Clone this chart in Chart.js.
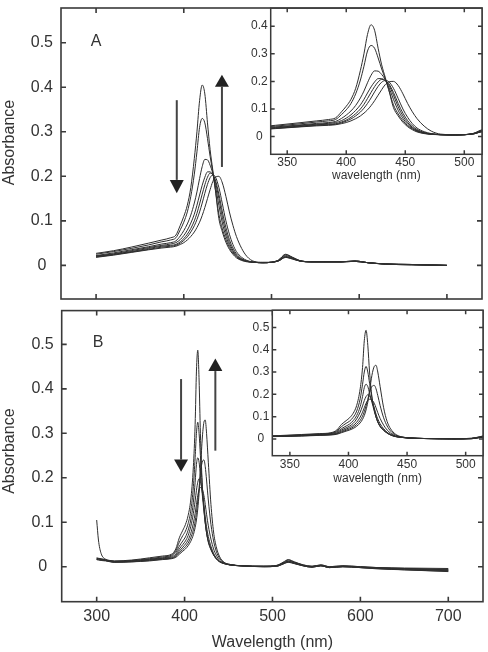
<!DOCTYPE html>
<html>
<head>
<meta charset="utf-8">
<script src="https://cdn.jsdelivr.net/npm/chart.js@4"></script>
<style>
  html, body { margin: 0; padding: 0; background: #fff; }
  #wrap { position: relative; width: 488px; height: 652px; }
  canvas { position: absolute; }
</style>
</head>
<body>
<div id="wrap">
  <canvas id="mainA" width="488" height="305" style="left:0;top:0"></canvas>
  <canvas id="mainB" width="488" height="347" style="left:0;top:305px"></canvas>
  <canvas id="insetA" width="258" height="186" style="left:230px;top:4px"></canvas>
  <canvas id="insetB" width="256" height="186" style="left:232px;top:306px"></canvas>
</div>
<script>
// ---- panel A : wavelengths (nm) and 7 spectra ----
const wlA = [300, 320, 340, 360, 375, 385, 391, 396, 400, 404, 408, 412, 415, 418, 421, 424, 427, 430, 433, 436,
  440, 444, 448, 452, 456, 460, 466, 472, 480, 490, 500, 508, 516, 524, 532, 545, 560, 580, 595, 610, 630, 660, 700];

const a1 = [.027, .033, .041, .050, .057, .062, .068, .090, .110, .135, .175, .240, .300, .370, .405, .385, .320, .260, .215, .170,
  .105, .075, .052, .036, .025, .017, .011, .008, .007, .006, .007, .012, .025, .018, .011, .008, .008, .008, .010, .006, .003, .002, .000];
const a2 = [.025, .031, .038, .046, .053, .057, .062, .080, .097, .120, .155, .205, .255, .310, .330, .320, .285, .245, .210, .170,
  .115, .082, .058, .040, .028, .019, .012, .009, .007, .006, .007, .012, .024, .018, .011, .008, .008, .008, .010, .006, .003, .002, .000];
const a3 = [.022, .028, .035, .042, .048, .051, .055, .066, .078, .093, .113, .140, .165, .195, .222, .238, .237, .225, .207, .180,
  .135, .095, .066, .045, .031, .021, .013, .009, .007, .006, .007, .011, .022, .017, .010, .008, .008, .008, .010, .006, .003, .002, .000];
const a4 = [.021, .026, .033, .040, .045, .048, .051, .058, .067, .079, .095, .115, .135, .158, .180, .198, .210, .210, .203, .188,
  .150, .108, .075, .051, .034, .023, .014, .009, .007, .006, .007, .011, .020, .016, .010, .008, .008, .008, .009, .006, .003, .002, .000];
const a5 = [.020, .025, .031, .038, .043, .045, .047, .053, .060, .070, .083, .100, .117, .138, .160, .181, .198, .207, .204, .192,
  .160, .120, .085, .058, .039, .026, .015, .010, .007, .006, .007, .010, .019, .015, .010, .008, .008, .008, .009, .006, .003, .002, .000];
const a6 = [.019, .024, .030, .036, .041, .043, .045, .050, .056, .064, .075, .089, .103, .120, .140, .162, .182, .197, .203, .199,
  .175, .138, .100, .070, .047, .031, .018, .011, .007, .006, .007, .010, .018, .015, .010, .008, .008, .008, .009, .006, .003, .001, .000];
const a7 = [.018, .023, .029, .035, .039, .041, .043, .047, .051, .057, .065, .075, .085, .097, .112, .130, .150, .170, .188, .198,
  .200, .185, .155, .120, .090, .065, .038, .020, .009, .007, .007, .010, .018, .014, .010, .008, .008, .008, .009, .006, .003, .001, .000];

// ---- panel B : wavelengths (nm) and 7 spectra ----
const wlB = [300, 302, 305, 310, 320, 340, 360, 375, 385, 390, 394, 398, 401, 404, 407, 410, 412, 413.5, 415, 416.5,
  418, 420, 422, 423.5, 425, 427, 430, 433, 436, 440, 445, 452, 465, 490, 505, 512, 518, 525, 535, 545, 555, 565, 580, 600, 620, 650, 700];

const b1 = [.020, .019, .018, .016, .013, .015, .020, .024, .028, .040, .065, .082, .095, .115, .150, .225, .320, .440, .487, .420,
  .300, .190, .135, .100, .076, .055, .038, .026, .018, .011, .007, .004, .002, .001, .003, .010, .016, .011, .004, .001, .004, .000, .002, .000, -.002, -.003, -.004];
const b2 = [.019, .018, .017, .015, .012, .014, .018, .022, .026, .036, .055, .070, .080, .097, .125, .180, .245, .300, .325, .300,
  .250, .185, .130, .100, .078, .057, .040, .027, .018, .011, .007, .004, .002, .001, .003, .009, .015, .010, .004, .001, .004, .000, .002, .000, -.002, -.004, -.006];
const b3 = [.018, .018, .016, .015, .012, .013, .017, .020, .024, .032, .046, .058, .067, .082, .105, .145, .190, .230, .245, .235,
  .205, .165, .125, .098, .077, .058, .040, .027, .018, .011, .007, .004, .002, .001, .002, .008, .013, .009, .003, .000, .003, -.001, .001, -.001, -.003, -.004, -.007];
const b4 = [.105, .060, .030, .017, .011, .012, .016, .019, .022, .028, .040, .050, .058, .070, .090, .120, .148, .172, .190, .198,
  .192, .170, .138, .112, .090, .068, .046, .030, .020, .012, .008, .004, .002, .001, .002, .008, .012, .009, .003, .000, .003, -.001, .001, -.001, -.003, -.005, -.008];
const b5 = [.017, .017, .016, .014, .011, .012, .015, .018, .020, .025, .035, .044, .051, .060, .075, .098, .120, .140, .160, .173,
  .178, .175, .160, .140, .118, .092, .062, .040, .026, .014, .008, .004, .002, .000, .002, .007, .011, .008, .002, -.001, .002, -.002, .000, -.002, -.004, -.006, -.009];
const b6 = [.016, .016, .015, .014, .010, .011, .014, .017, .019, .023, .031, .039, .045, .053, .065, .083, .102, .122, .148, .178,
  .210, .235, .240, .225, .195, .150, .095, .058, .035, .018, .009, .005, .002, .000, .001, .006, .010, .007, .002, -.001, .002, -.002, .000, -.002, -.004, -.007, -.010];
const b7 = [.016, .015, .014, .013, .010, .011, .013, .016, .018, .021, .028, .035, .040, .047, .057, .072, .088, .105, .130, .165,
  .215, .285, .325, .330, .300, .235, .140, .078, .045, .022, .010, .005, .002, .000, .001, .006, .010, .007, .002, -.001, .002, -.002, .000, -.002, -.005, -.007, -.011];

// ---- tick labels ----
const mainXTicks = [300, 400, 500, 600, 700];
const mainYTicks = [0, 0.1, 0.2, 0.3, 0.4, 0.5];
const insetXTicks = [350, 400, 450, 500];
const insetAYTicks = [0, 0.1, 0.2, 0.3, 0.4];
const insetBYTicks = [0, 0.1, 0.2, 0.3, 0.4, 0.5];

const FONT = '"Liberation Sans", Arial, Helvetica, sans-serif';
const INK = '#333';

function toPoints(wl, ys) {
  return ys.map((y, i) => ({ x: wl[i], y: y }));
}
function datasets(wl, list) {
  return list.map(ys => ({ data: toPoints(wl, ys) }));
}

// frame with inward ticks, arrows, panel letter and y title
const framePlugin = {
  id: 'frame',
  beforeDraw(chart, args, o) {
    if (!o.fill) return;
    const a = chart.chartArea, ctx = chart.ctx;
    ctx.save();
    ctx.fillStyle = '#fff';
    ctx.fillRect(a.left, a.top, a.right - a.left, a.bottom - a.top);
    ctx.restore();
  },
  afterDraw(chart, args, o) {
    const { ctx, chartArea: a, scales: { x, y } } = chart;
    ctx.save();
    ctx.strokeStyle = '#3a3a3a';
    ctx.lineWidth = o.lw;
    ctx.strokeRect(a.left, a.top, a.right - a.left, a.bottom - a.top);
    ctx.beginPath();
    x.ticks.forEach(t => {
      const p = x.getPixelForValue(t.value);
      ctx.moveTo(p, a.bottom); ctx.lineTo(p, a.bottom - o.tick);
      ctx.moveTo(p, a.top); ctx.lineTo(p, a.top + o.tick);
    });
    y.ticks.forEach(t => {
      const p = y.getPixelForValue(t.value);
      ctx.moveTo(a.left, p); ctx.lineTo(a.left + o.tick, p);
      ctx.moveTo(a.right, p); ctx.lineTo(a.right - o.tick, p);
    });
    ctx.stroke();

    (o.arrows || []).forEach(ar => {
      const px = x.getPixelForValue(ar.x);
      const y0 = y.getPixelForValue(ar.from);
      const yb = y.getPixelForValue(ar.base);
      const yt = y.getPixelForValue(ar.tip);
      ctx.strokeStyle = '#444';
      ctx.lineWidth = 2;
      ctx.beginPath(); ctx.moveTo(px, y0); ctx.lineTo(px, yb); ctx.stroke();
      ctx.fillStyle = '#222';
      ctx.beginPath();
      ctx.moveTo(px - 7, yb); ctx.lineTo(px + 7, yb); ctx.lineTo(px, yt);
      ctx.closePath(); ctx.fill();
    });

    ctx.fillStyle = INK;
    ctx.font = '16px ' + FONT;
    ctx.textAlign = 'center';
    ctx.textBaseline = 'middle';
    if (o.letter) {
      ctx.fillText(o.letter.text, x.getPixelForValue(o.letter.x), y.getPixelForValue(o.letter.y));
    }
    if (o.yTitle) {
      ctx.translate(10, (a.top + a.bottom) / 2 + o.yTitle.shift);
      ctx.rotate(-Math.PI / 2);
      ctx.fillText(o.yTitle.text, 0, 0);
    }
    ctx.restore();
  }
};

function yLabel(v) {
  return v === 0 ? '0' : v.toFixed(1);
}

function makeChart(id, cfg) {
  return new Chart(document.getElementById(id), {
    type: 'line',
    data: { datasets: datasets(cfg.wl, cfg.series) },
    plugins: [framePlugin],
    options: {
      responsive: false,
      animation: false,
      events: [],
      layout: { padding: { top: cfg.padTop, right: cfg.padRight, left: 0, bottom: 0 } },
      elements: {
        point: { radius: 0 },
        line: { borderWidth: cfg.lineW, borderColor: '#2e2e2e', cubicInterpolationMode: 'monotone', fill: false }
      },
      plugins: {
        legend: { display: false },
        tooltip: { enabled: false },
        frame: { lw: cfg.frameW, tick: cfg.tick, fill: cfg.fill, arrows: cfg.arrows, letter: cfg.letter, yTitle: cfg.yTitle }
      },
      scales: {
        x: {
          type: 'linear',
          min: cfg.xMin, max: cfg.xMax,
          grid: { display: false, drawTicks: false },
          border: { display: false },
          afterBuildTicks: s => { s.ticks = cfg.xTicks.map(v => ({ value: v })); },
          afterFit: s => { s.height = cfg.xH; },
          ticks: { display: cfg.xLabels, padding: cfg.xPad, color: INK, autoSkip: false, maxRotation: 0,
                   font: { family: FONT, size: cfg.fs } },
          title: { display: !!cfg.xTitle, text: cfg.xTitle, color: INK,
                   font: { family: FONT, size: cfg.fs }, padding: { top: 0, bottom: cfg.xTitlePad } }
        },
        y: {
          type: 'linear',
          min: cfg.yMin, max: cfg.yMax,
          grid: { display: false, drawTicks: true, tickLength: cfg.yPad },
          border: { display: false },
          afterBuildTicks: s => { s.ticks = cfg.yTicks.map(v => ({ value: v })); },
          afterFit: s => { s.width = cfg.yW; },
          ticks: { crossAlign: 'center', padding: 0, color: INK, autoSkip: false,
                   font: { family: FONT, size: cfg.fs, lineHeight: 0.7 }, callback: yLabel }
        }
      }
    }
  });
}

const seriesA = [a1, a2, a3, a4, a5, a6, a7];
const seriesB = [b1, b2, b3, b4, b5, b6, b7];

makeChart('mainA', {
  wl: wlA, series: seriesA, xMin: 260, xMax: 740, yMin: -0.0755, yMax: 0.578,
  xTicks: mainXTicks, yTicks: mainYTicks, xLabels: false, xTitle: '',
  yTitle: { text: 'Absorbance', shift: -11 },
  padTop: 8, padRight: 6, xH: 6, yW: 61, yPad: 8, xPad: 0, fs: 16, xTitlePad: 0,
  lineW: 1, frameW: 1.6, tick: 5, fill: false,
  arrows: [{ x: 392, from: 0.371, base: 0.192, tip: 0.162 }, { x: 443.5, from: 0.221, base: 0.401, tip: 0.428 }],
  letter: { text: 'A', x: 300, y: 0.502 }
});

makeChart('mainB', {
  wl: wlB, series: seriesB, xMin: 260.2, xMax: 739.5, yMin: -0.0787, yMax: 0.576,
  xTicks: mainXTicks, yTicks: mainYTicks, xLabels: true, xTitle: 'Wavelength (nm)',
  yTitle: { text: 'Absorbance', shift: -5 },
  padTop: 5.5, padRight: 5, xH: 50.3, yW: 61.7, yPad: 8, xPad: 5, fs: 16, xTitlePad: -0.5,
  lineW: 1, frameW: 1.6, tick: 5, fill: false,
  arrows: [{ x: 396, from: 0.422, base: 0.241, tip: 0.2135 }, { x: 435, from: 0.261, base: 0.44, tip: 0.468 }],
  letter: { text: 'B', x: 301.5, y: 0.504 }
});

makeChart('insetA', {
  wl: wlA, series: seriesA, xMin: 336, xMax: 515, yMin: -0.064, yMax: 0.465,
  xTicks: insetXTicks, yTicks: insetAYTicks, xLabels: true, xTitle: 'wavelength (nm)', yTitle: null,
  padTop: 4, padRight: 6, xH: 35.7, yW: 40.7, yPad: 3, xPad: 1.5, fs: 12, xTitlePad: 7,
  lineW: 1, frameW: 1.5, tick: 4, fill: true, arrows: [], letter: null
});

makeChart('insetB', {
  wl: wlB, series: seriesB, xMin: 335, xMax: 514.8, yMin: -0.075, yMax: 0.577,
  xTicks: insetXTicks, yTicks: insetBYTicks, xLabels: true, xTitle: 'wavelength (nm)', yTitle: null,
  padTop: 4, padRight: 5, xH: 36.3, yW: 40.3, yPad: 3, xPad: 1.5, fs: 12, xTitlePad: 6,
  lineW: 1, frameW: 1.5, tick: 4, fill: true, arrows: [], letter: null
});
</script>
</body>
</html>
